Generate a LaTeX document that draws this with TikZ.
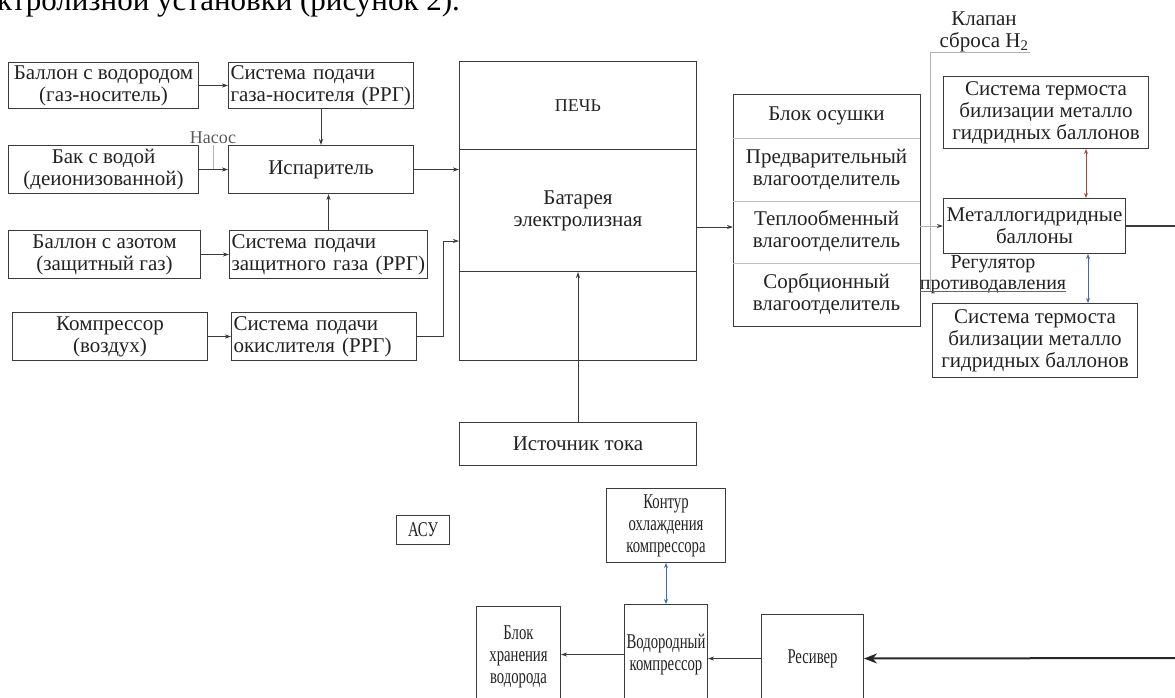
\documentclass[tikz,border=0pt]{standalone}
\usepackage{fontspec}
\setmainfont{Liberation Serif}
\newfontfamily\condfont[FakeStretch=0.7]{Liberation Serif}
\usetikzlibrary{arrows.meta,calc}
\definecolor{lineC}{HTML}{3A3A3A}
\definecolor{textC}{HTML}{222222}
\definecolor{redC}{HTML}{A5493E}
\definecolor{blueC}{HTML}{3F6CA6}
\begin{document}
\begin{tikzpicture}[x=1pt,y=-1pt,
  box/.style={draw=lineC, line width=1pt, inner xsep=2pt, inner ysep=0pt, align=center,
    text=textC, anchor=north west, font=\fontsize{21}{22}\selectfont},
  lbox/.style={box, align=left, text width=#1},
  sec/.style={box, draw=none, minimum width=186pt},
  cbox/.style={box, font=\condfont\fontsize{21}{22}\selectfont},
  arr/.style={draw=lineC, line width=0.9pt, -{Stealth[length=6pt,width=4pt]}},
  greyline/.style={draw=black!30, line width=0.9pt},
  redarr/.style={draw=redC, line width=0.9pt, {Stealth[length=5pt,width=4pt]}-{Stealth[length=5pt,width=4pt]}},
  bluearr/.style={draw=blueC, line width=0.9pt, {Stealth[length=5pt,width=4pt]}-{Stealth[length=5pt,width=4pt]}},
  bigarr/.style={draw=black!85, line width=2pt, -{Stealth[length=13pt,width=10pt]}},
  lbl/.style={text=textC, inner sep=0pt, align=center, font=\fontsize{21}{22}\selectfont}
]
\useasboundingbox (0,0) rectangle (1175,697);
\clip (0,0) rectangle (1175,697);

% cut-off text line at top
\node[anchor=base west, inner sep=0pt, text=black, font=\fontsize{31}{33}\selectfont] (cap) at (-3,10) {ктролизной установки (рисунок 2).};

% left column
\node[box, minimum width=190pt, minimum height=46pt] (b1) at (8,62) {Баллон с водородом\\(газ-носитель)};
\node[lbox=181pt, minimum height=46pt] (s1) at (228,62) {\mbox{Система подачи}\\\mbox{газа-носителя (РРГ)}};
\node[box, minimum width=190pt, minimum height=48pt] (b2) at (8,145) {Бак с водой\\(деионизованной)};
\node[box, minimum width=185pt, minimum height=48pt] (isp) at (228,145) {Испаритель};
\node[box, minimum width=192pt, minimum height=48pt] (b3) at (8,230) {Баллон с азотом\\(защитный газ)};
\node[lbox=194pt, minimum height=48pt] (s3) at (229,230) {\mbox{Система подачи}\\\mbox{защитного газа (РРГ)}};
\node[box, minimum width=195pt, minimum height=48pt] (b4) at (12,312) {Компрессор\\(воздух)};
\node[lbox=181pt, minimum height=48pt] (s4) at (231,312) {\mbox{Система подачи}\\\mbox{окислителя (РРГ)}};

% pump
\node[lbl, text=black!65, font=\fontsize{18}{20}\selectfont] (nasos) at (213,138) {Насос};
\draw[greyline] (nasos.south |- b2.north) -- (nasos.south |- b2.east);

% battery
\node[box, minimum width=237pt, minimum height=88pt, font=\fontsize{18}{20}\selectfont] (pech) at (459,61) {ПЕЧЬ};
\node[box, minimum width=237pt, minimum height=122pt] (batt) at (459,149) {Батарея\\электролизная};
\node[box, minimum width=237pt, minimum height=89pt] (bbot) at (459,271) {};
\node[box, minimum width=237pt, minimum height=43pt] (ist) at (459,422) {Источник тока};

% drying block
\node[sec, minimum height=43pt] (os1) at (733,94) {Блок осушки};
\node[sec, minimum height=63pt] (os2) at (733,137) {Предварительный\\влагоотделитель};
\node[sec, minimum height=62pt] (os3) at (733,200) {Теплообменный\\влагоотделитель};
\node[sec, minimum height=63pt] (os4) at (733,262) {Сорбционный\\влагоотделитель};
\draw[draw=lineC, line width=1pt] (os1.north west) rectangle (os4.south east);
\draw[draw=black!25, line width=0.8pt] (os1.south west) -- (os1.south east);
\draw[draw=black!25, line width=0.8pt] (os2.south west) -- (os2.south east);
\draw[draw=black!25, line width=0.8pt] (os3.south west) -- (os3.south east);

% metal hydride part
\node[box, minimum width=205pt, minimum height=72pt] (t1) at (943,76) {Система термоста\\билизации металло\\гидридных баллонов};
\node[box, minimum width=182pt, minimum height=55pt] (mg) at (943,198) {Металлогидридные\\баллоны};
\node[box, minimum width=205pt, minimum height=74pt] (t2) at (932,303) {Система термоста\\билизации металло\\гидридных баллонов};

\node[lbl, anchor=center] (klap) at (984,32) {Клапан\\сброса H\textsubscript{2}};
\node[lbl, anchor=center, font=\fontsize{20}{21}\selectfont] (reg) at (993,275) {Регулятор\\противодавления};
\coordinate (k1) at (1030,52);
\coordinate (k2) at (930,52);
\coordinate (k3) at (930,291);
\draw[greyline] (k1) -- (k2) -- (k3);
\draw[draw=black!60, line width=0.9pt] (920,291) -- (1066,291);

% bottom part
\node[cbox, minimum width=53pt, minimum height=29pt] (asu) at (396,515) {АСУ};
\node[cbox, minimum width=119pt, minimum height=74pt] (kontur) at (606,488) {Контур\\охлаждения\\компрессора};
\node[cbox, minimum width=83pt, minimum height=100pt] (vk) at (624,604) {Водородный\\компрессор};
\node[cbox, minimum width=84pt, minimum height=100pt] (bh) at (476,606) {Блок\\хранения\\водорода};
\node[cbox, minimum width=102pt, minimum height=88pt] (res) at (761,614) {Ресивер};

% helper coordinates
\coordinate (j1) at (443,241);
\coordinate (j2) at (0,227);
\coordinate (xr) at (1086,0);
\coordinate (xb) at (1088,0);
\coordinate (out1) at (1180,0);
\coordinate (in1) at (1180,658);

% connectors
\draw[arr] (b1.east) -- (b1.east -| s1.west);
\draw[arr] (s1.south) -- (s1.south |- isp.north);
\draw[arr] (b2.east) -- (b2.east -| isp.west);
\draw[arr] (s3.north) -- (s3.north |- isp.south);
\draw[arr] (b3.east) -- (b3.east -| s3.west);
\draw[arr] (b4.east) -- (b4.east -| s4.west);
\draw[arr] (isp.east) -- (isp.east -| batt.west);
\draw[arr] (s4.east) -| (j1) -- (j1 -| batt.west);
\draw[arr] (ist.north) -- (ist.north |- batt.south);
\draw[arr] (batt.east |- j2) -- (j2 -| os3.west);
\draw[greyline, -{Stealth[length=6pt,width=4pt,color=lineC]}] (mg.west -| os3.east) -- (mg.west);
\draw[draw=lineC, line width=1.6pt] (mg.east) -- (mg.east -| out1);
\draw[redarr] (t1.south -| xr) -- (mg.north -| xr);
\draw[bluearr] (mg.south -| xb) -- (t2.north -| xb);
\draw[bluearr] (kontur.south) -- (vk.north);
\draw[arr] (vk.west) -- (vk.west -| bh.east);
\draw[arr] (res.west) -- (res.west -| vk.east);
\draw[bigarr] (in1) -- (res.east);
\end{tikzpicture}
\end{document}
